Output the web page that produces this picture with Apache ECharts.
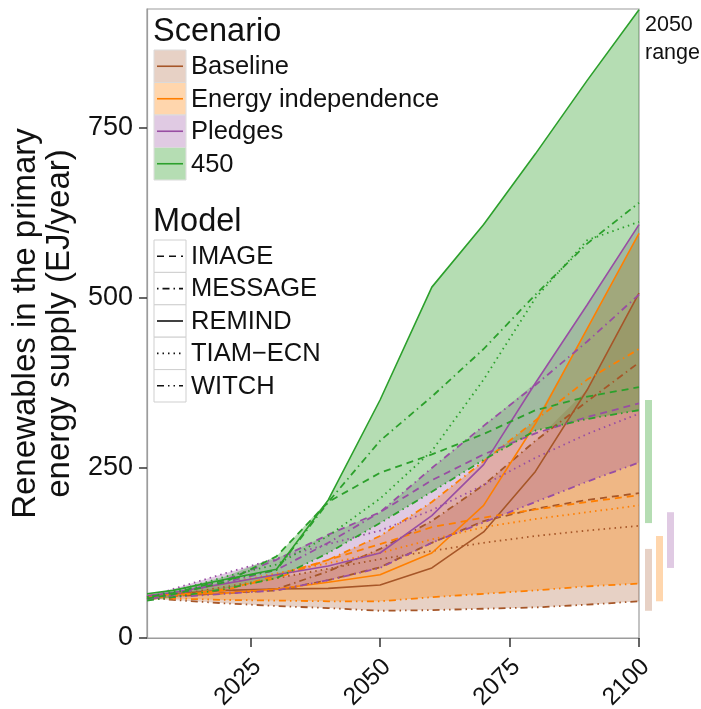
<!DOCTYPE html>
<html><head><meta charset="utf-8">
<script src="https://cdn.jsdelivr.net/npm/echarts@6/dist/echarts.min.js"></script>
<style>html,body{margin:0;padding:0;background:#fff}#c{width:701px;height:709px}</style>
</head><body><div id="c"></div>
<script>
// ---------------- data ----------------
const years = [2005, 2010, 2020, 2030, 2040, 2050, 2060, 2070, 2080, 2090, 2100];
const scenarios = ['Baseline', 'Energy independence', 'Pledges', '450'];
const models = ['IMAGE', 'MESSAGE', 'REMIND', 'TIAM\u2212ECN', 'WITCH'];
const yTicks = [0, 250, 500, 750];
const xTicks = [2025, 2050, 2075, 2100];
const rangeYear = 2050;

// Baseline
const baselineIMAGE   = [58, 62, 66, 70, 85, 104, 140, 172, 190, 203, 213];
const baselineMESSAGE = [57, 61, 66, 72, 98, 131, 172, 225, 290, 348, 405];
const baselineREMIND  = [62, 65, 70, 72, 73, 78, 103, 156, 245, 365, 507];
const baselineTIAM    = [58, 63, 75, 88, 102, 116, 128, 140, 150, 158, 165];
const baselineWITCH   = [60, 56, 51, 47, 44, 40, 41, 43, 45, 49, 54];
// Energy independence
const energyIMAGE   = [58, 62, 70, 92, 115, 138, 163, 177, 189, 200, 210];
const energyMESSAGE = [57, 62, 72, 88, 115, 150, 200, 260, 320, 380, 425];
const energyREMIND  = [62, 64, 66, 72, 82, 93, 125, 195, 315, 455, 595];
const energyTIAM    = [60, 66, 80, 95, 110, 125, 145, 163, 175, 185, 195];
const energyWITCH   = [60, 58, 56, 55, 54, 54, 60, 65, 70, 76, 80];
// Pledges
const pledgesIMAGE   = [58, 64, 85, 115, 152, 185, 232, 270, 301, 325, 345];
const pledgesMESSAGE = [57, 63, 82, 100, 140, 185, 250, 312, 372, 436, 505];
const pledgesREMIND  = [62, 67, 80, 93, 106, 125, 180, 255, 375, 490, 608];
const pledgesTIAM    = [58, 72, 95, 117, 138, 158, 188, 225, 265, 300, 330];
const pledgesWITCH   = [56, 60, 65, 70, 85, 103, 140, 170, 200, 230, 258];
// 450
const s450IMAGE   = [58, 64, 82, 120, 200, 243, 270, 300, 335, 355, 369];
const s450MESSAGE = [60, 66, 85, 100, 200, 290, 355, 425, 505, 580, 640];
const s450REMIND  = [65, 70, 86, 101, 203, 350, 516, 608, 712, 820, 924];
const s450TIAM    = [60, 68, 90, 108, 150, 205, 275, 380, 500, 585, 612];
const s450WITCH   = [55, 60, 72, 88, 125, 169, 215, 262, 305, 322, 335];

const scenarioData = [
  [baselineIMAGE, baselineMESSAGE, baselineREMIND, baselineTIAM, baselineWITCH],
  [energyIMAGE, energyMESSAGE, energyREMIND, energyTIAM, energyWITCH],
  [pledgesIMAGE, pledgesMESSAGE, pledgesREMIND, pledgesTIAM, pledgesWITCH],
  [s450IMAGE, s450MESSAGE, s450REMIND, s450TIAM, s450WITCH]
];

// ---------------- styles ----------------
const FONT = '"Liberation Sans", Arial, Helvetica, sans-serif';
const lineColors = ['#a65628', '#ff7f00', '#984ea3', '#2ca02c'];
const fillColors = ['rgba(166,86,40,0.27)', 'rgba(255,127,0,0.32)', 'rgba(152,78,163,0.3)', 'rgba(51,160,44,0.36)'];
const dashes = [[7, 5], [1.5, 4, 7, 4], 'solid', [1.5, 4], [7, 4, 1.5, 4, 1.5, 4]];
const widths = [1.8, 1.8, 1.6, 1.8, 1.8];
const rangeOffsets = [6, 17, 28, 6];

const series = [];
// ribbons (envelope across models)
scenarioData.forEach((lines, si) => {
  const lo = years.map((y, i) => Math.min(...lines.map(l => l[i])));
  const hi = years.map((y, i) => Math.max(...lines.map(l => l[i])));
  series.push({
    type: 'custom', silent: true, z: 1,
    data: years.map((y, i) => [y, lo[i], hi[i]]),
    encode: { x: 0, y: [1, 2] },
    renderItem: (params, api) => {
      if (params.dataIndex !== 0) return null;
      const pts = [];
      years.forEach((y, i) => pts.push(api.coord([y, hi[i]])));
      for (let i = years.length - 1; i >= 0; i--) pts.push(api.coord([years[i], lo[i]]));
      return { type: 'polygon', shape: { points: pts }, style: { fill: fillColors[si] } };
    }
  });
});
// model lines
scenarioData.forEach((lines, si) => {
  lines.forEach((vals, mi) => {
    series.push({
      type: 'line', silent: true, z: 3, symbol: 'none', animation: false,
      data: years.map((y, i) => [y, vals[i]]),
      lineStyle: { color: lineColors[si], width: widths[mi], type: dashes[mi] }
    });
  });
});
// 2050 range bars (right margin)
const ri = years.indexOf(rangeYear);
scenarioData.forEach((lines, si) => {
  const vals = lines.map(l => l[ri]);
  series.push({
    type: 'custom', silent: true, z: 2, clip: false,
    data: [[2100, Math.min(...vals), Math.max(...vals)]],
    encode: { x: 0, y: [1, 2] },
    renderItem: (params, api) => {
      const a = api.coord([api.value(0), api.value(1)]);
      const b = api.coord([api.value(0), api.value(2)]);
      return { type: 'rect', shape: { x: a[0] + rangeOffsets[si], y: b[1], width: 7, height: a[1] - b[1] },
               style: { fill: fillColors[si] } };
    }
  });
});

// ---------------- legend (graphic) ----------------
const graphic = [];
graphic.push({ type: 'text', x: 153, y: 32, style: { text: 'Scenario', fontSize: 32.5, fontFamily: FONT, fill: '#111', align: 'left', verticalAlign: 'middle' } });
scenarios.forEach((s, i) => {
  const top = 50 + i * 32.5;
  graphic.push({ type: 'rect', shape: { x: 154, y: top, width: 32, height: 32.5 }, style: { fill: '#fff', stroke: '#dadada', lineWidth: 1 } });
  graphic.push({ type: 'rect', shape: { x: 154.5, y: top + 0.5, width: 31, height: 31.5 }, style: { fill: fillColors[i] } });
  graphic.push({ type: 'line', shape: { x1: 157, y1: top + 16.25, x2: 183, y2: top + 16.25 }, style: { stroke: lineColors[i], lineWidth: 1.6 } });
  graphic.push({ type: 'text', x: 191, y: top + 17, style: { text: s, fontSize: 25.5, fontFamily: FONT, fill: '#111', align: 'left', verticalAlign: 'middle' } });
});
graphic.push({ type: 'text', x: 153, y: 222, style: { text: 'Model', fontSize: 32.5, fontFamily: FONT, fill: '#111', align: 'left', verticalAlign: 'middle' } });
models.forEach((m, i) => {
  const top = 240 + i * 32.4;
  graphic.push({ type: 'rect', shape: { x: 154, y: top, width: 32, height: 32.4 }, style: { fill: '#fff', stroke: '#cfcfcf', lineWidth: 1 } });
  const ls = { stroke: '#111', lineWidth: 1.6 };
  if (dashes[i] !== 'solid') ls.lineDash = dashes[i];
  graphic.push({ type: 'line', shape: { x1: 157, y1: top + 16.2, x2: 183, y2: top + 16.2 }, style: ls });
  graphic.push({ type: 'text', x: 191, y: top + 17, style: { text: m, fontSize: 25.5, fontFamily: FONT, fill: '#111', align: 'left', verticalAlign: 'middle' } });
});
graphic.push({ type: 'text', x: 645, y: 39, style: { text: '2050\nrange', fontSize: 21.5, lineHeight: 28, fontFamily: FONT, fill: '#111', align: 'left', verticalAlign: 'middle' } });

// ---------------- chart ----------------
const chart = echarts.init(document.getElementById('c'), null, { renderer: 'canvas' });
chart.setOption({
  animation: false,
  backgroundColor: '#fff',
  grid: { left: 147, right: 62, top: 9, bottom: 71, containLabel: false, outerBoundsMode: 'none',
          show: true, borderColor: '#9c9c9c', borderWidth: 1.2, backgroundColor: 'transparent' },
  xAxis: {
    type: 'value', min: 2005, max: 2100,
    axisLine: { show: true, lineStyle: { color: '#9c9c9c', width: 1.2 } },
    axisTick: { show: true, length: 9, customValues: xTicks, lineStyle: { color: '#333', width: 1.5 } },
    axisLabel: { customValues: xTicks, formatter: v => String(v), rotate: 45, align: 'right', verticalAlign: 'top',
                 margin: 7, padding: [5, 8, 0, 0], fontSize: 24.5, color: '#111', fontFamily: FONT },
    splitLine: { show: false }
  },
  yAxis: {
    type: 'value', min: 0, max: 925,
    name: 'Renewables in the primary\nenergy supply (EJ/year)',
    nameLocation: 'middle', nameGap: 69,
    nameTextStyle: { fontSize: 33, lineHeight: 34, color: '#111', fontFamily: FONT },
    axisLine: { show: true, lineStyle: { color: '#9c9c9c', width: 1.2 } },
    axisTick: { show: true, length: 8, customValues: yTicks, lineStyle: { color: '#333', width: 1.5 } },
    axisLabel: { customValues: yTicks, margin: 14, fontSize: 27, color: '#111', fontFamily: FONT },
    splitLine: { show: false }
  },
  graphic: graphic,
  series: series
});
</script>
</body></html>
